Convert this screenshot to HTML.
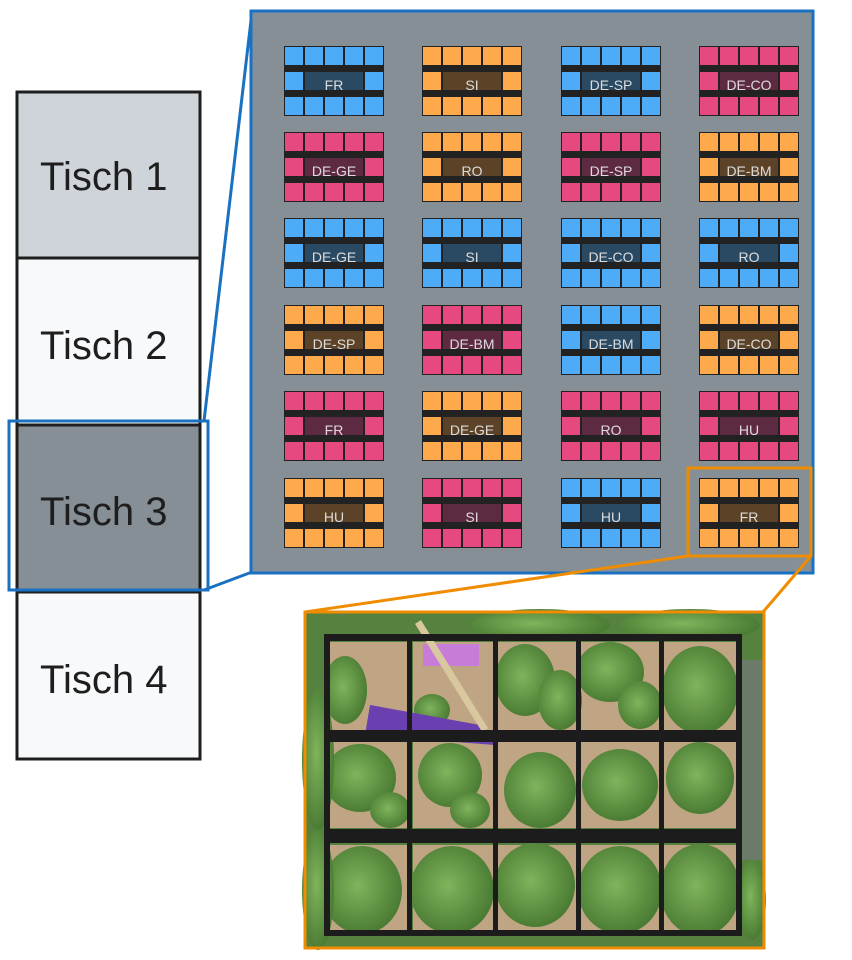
<!DOCTYPE html>
<html><head><meta charset="utf-8"><style>
html,body{margin:0;padding:0;background:#fff;width:852px;height:960px;overflow:hidden}
svg{display:block}
text{font-family:"Liberation Sans",sans-serif}
</style></head><body>
<svg width="852" height="960" viewBox="0 0 852 960" xmlns="http://www.w3.org/2000/svg">
<defs>
<g id="tB"><rect width="100" height="70" fill="#222"/>
<g fill="#4dabf7"><rect x="1" y="1" width="18" height="18"/><rect x="21" y="1" width="18" height="18"/><rect x="41" y="1" width="18" height="18"/><rect x="61" y="1" width="18" height="18"/><rect x="81" y="1" width="18" height="18"/>
<rect x="1" y="26" width="18" height="18"/><rect x="81" y="26" width="18" height="18"/>
<rect x="1" y="51" width="18" height="18"/><rect x="21" y="51" width="18" height="18"/><rect x="41" y="51" width="18" height="18"/><rect x="61" y="51" width="18" height="18"/><rect x="81" y="51" width="18" height="18"/></g>
<rect x="21" y="26" width="58" height="18" fill="#2a4962"/></g>
<g id="tO"><rect width="100" height="70" fill="#222"/>
<g fill="#ffa94d"><rect x="1" y="1" width="18" height="18"/><rect x="21" y="1" width="18" height="18"/><rect x="41" y="1" width="18" height="18"/><rect x="61" y="1" width="18" height="18"/><rect x="81" y="1" width="18" height="18"/>
<rect x="1" y="26" width="18" height="18"/><rect x="81" y="26" width="18" height="18"/>
<rect x="1" y="51" width="18" height="18"/><rect x="21" y="51" width="18" height="18"/><rect x="41" y="51" width="18" height="18"/><rect x="61" y="51" width="18" height="18"/><rect x="81" y="51" width="18" height="18"/></g>
<rect x="21" y="26" width="58" height="18" fill="#5c4328"/></g>
<g id="tP"><rect width="100" height="70" fill="#222"/>
<g fill="#e64980"><rect x="1" y="1" width="18" height="18"/><rect x="21" y="1" width="18" height="18"/><rect x="41" y="1" width="18" height="18"/><rect x="61" y="1" width="18" height="18"/><rect x="81" y="1" width="18" height="18"/>
<rect x="1" y="26" width="18" height="18"/><rect x="81" y="26" width="18" height="18"/>
<rect x="1" y="51" width="18" height="18"/><rect x="21" y="51" width="18" height="18"/><rect x="41" y="51" width="18" height="18"/><rect x="61" y="51" width="18" height="18"/><rect x="81" y="51" width="18" height="18"/></g>
<rect x="21" y="26" width="58" height="18" fill="#5e2a42"/></g>
<radialGradient id="leaf" cx="45%" cy="45%" r="55%"><stop offset="0" stop-color="#80b45c"/><stop offset="1" stop-color="#4b7c34"/></radialGradient>
</defs>

<rect x="17" y="92" width="183" height="166" fill="#ced4da" stroke="#1e1e1e" stroke-width="3"/>
<rect x="17" y="258" width="183" height="167" fill="#f8f9fa" stroke="#1e1e1e" stroke-width="3"/>
<rect x="17" y="425" width="183" height="167" fill="#868e96" stroke="#1e1e1e" stroke-width="3"/>
<rect x="17" y="592" width="183" height="167" fill="#f8f9fa" stroke="#1e1e1e" stroke-width="3"/>
<g font-size="40" fill="#1e1e1e">
<text x="40" y="190">Tisch 1</text><text x="40" y="359">Tisch 2</text>
<text x="40" y="525">Tisch 3</text><text x="40" y="693">Tisch 4</text></g>
<rect x="9" y="421" width="199" height="169" fill="none" stroke="#1971c2" stroke-width="3"/>
<line x1="204" y1="421" x2="252" y2="12" stroke="#1971c2" stroke-width="3"/>
<line x1="204" y1="590" x2="252" y2="572" stroke="#1971c2" stroke-width="3"/>

<rect x="251" y="11" width="562" height="562" fill="#868e96" stroke="#1971c2" stroke-width="3"/>
<use href="#tB" x="284" y="46"/><use href="#tO" x="422" y="46"/><use href="#tB" x="561" y="46"/><use href="#tP" x="699" y="46"/>
<use href="#tP" x="284" y="132"/><use href="#tO" x="422" y="132"/><use href="#tP" x="561" y="132"/><use href="#tO" x="699" y="132"/>
<use href="#tB" x="284" y="218"/><use href="#tB" x="422" y="218"/><use href="#tB" x="561" y="218"/><use href="#tB" x="699" y="218"/>
<use href="#tO" x="284" y="305"/><use href="#tP" x="422" y="305"/><use href="#tB" x="561" y="305"/><use href="#tO" x="699" y="305"/>
<use href="#tP" x="284" y="391"/><use href="#tO" x="422" y="391"/><use href="#tP" x="561" y="391"/><use href="#tP" x="699" y="391"/>
<use href="#tO" x="284" y="478"/><use href="#tP" x="422" y="478"/><use href="#tB" x="561" y="478"/><use href="#tO" x="699" y="478"/>
<g font-size="14" fill="#dcdcdc" text-anchor="middle">
<text x="334" y="90">FR</text><text x="472" y="90">SI</text><text x="611" y="90">DE-SP</text><text x="749" y="90">DE-CO</text>
<text x="334" y="176">DE-GE</text><text x="472" y="176">RO</text><text x="611" y="176">DE-SP</text><text x="749" y="176">DE-BM</text>
<text x="334" y="262">DE-GE</text><text x="472" y="262">SI</text><text x="611" y="262">DE-CO</text><text x="749" y="262">RO</text>
<text x="334" y="349">DE-SP</text><text x="472" y="349">DE-BM</text><text x="611" y="349">DE-BM</text><text x="749" y="349">DE-CO</text>
<text x="334" y="435">FR</text><text x="472" y="435">DE-GE</text><text x="611" y="435">RO</text><text x="749" y="435">HU</text>
<text x="334" y="522">HU</text><text x="472" y="522">SI</text><text x="611" y="522">HU</text><text x="749" y="522">FR</text></g>

<rect x="688" y="468" width="123" height="88" fill="none" stroke="#f08c00" stroke-width="3"/>
<line x1="688" y1="556" x2="305" y2="612" stroke="#f08c00" stroke-width="3"/>
<line x1="811" y1="556" x2="763" y2="612" stroke="#f08c00" stroke-width="3"/>

<rect x="305" y="612" width="459" height="336" fill="#56823f"/>
<rect x="740" y="660" width="24" height="200" fill="#6c7a6a"/>
<g fill="#bfa583">
<rect x="330" y="642" width="78" height="88"/><rect x="413" y="642" width="80" height="88"/><rect x="498" y="642" width="78" height="88"/><rect x="581" y="642" width="78" height="88"/><rect x="664" y="642" width="72" height="88"/>
<rect x="330" y="742" width="78" height="86"/><rect x="413" y="742" width="80" height="86"/><rect x="498" y="742" width="78" height="86"/><rect x="581" y="742" width="78" height="86"/><rect x="664" y="742" width="72" height="86"/>
<rect x="330" y="845" width="78" height="88"/><rect x="413" y="845" width="80" height="88"/><rect x="498" y="845" width="78" height="88"/><rect x="581" y="845" width="78" height="88"/><rect x="664" y="845" width="72" height="88"/></g>
<g fill="url(#leaf)">
<ellipse cx="345" cy="690" rx="22" ry="34"/><ellipse cx="432" cy="710" rx="18" ry="16"/><ellipse cx="525" cy="680" rx="30" ry="36"/><ellipse cx="560" cy="700" rx="22" ry="30"/><ellipse cx="610" cy="672" rx="34" ry="30"/><ellipse cx="640" cy="705" rx="22" ry="24"/><ellipse cx="700" cy="690" rx="38" ry="44"/>
<ellipse cx="360" cy="778" rx="36" ry="34"/><ellipse cx="390" cy="810" rx="20" ry="18"/><ellipse cx="450" cy="775" rx="32" ry="32"/><ellipse cx="470" cy="810" rx="20" ry="18"/><ellipse cx="540" cy="790" rx="36" ry="38"/><ellipse cx="620" cy="785" rx="38" ry="36"/><ellipse cx="700" cy="778" rx="34" ry="36"/>
<ellipse cx="362" cy="890" rx="40" ry="44"/><ellipse cx="452" cy="890" rx="42" ry="44"/><ellipse cx="535" cy="885" rx="40" ry="42"/><ellipse cx="620" cy="890" rx="42" ry="44"/><ellipse cx="700" cy="890" rx="40" ry="46"/>
<ellipse cx="540" cy="625" rx="70" ry="16"/><ellipse cx="690" cy="625" rx="70" ry="16"/><ellipse cx="318" cy="760" rx="16" ry="70"/><ellipse cx="318" cy="890" rx="16" ry="60"/><ellipse cx="752" cy="900" rx="14" ry="40"/></g>
<rect x="423" y="644" width="56" height="22" fill="#c77dd8"/>
<polygon points="370,705 480,725 495,745 365,735" fill="#6a3fb0"/>
<line x1="418" y1="622" x2="485" y2="730" stroke="#d9c7a0" stroke-width="7"/>
<g fill="#1c1c1c">
<rect x="324" y="634" width="418" height="7"/><rect x="324" y="930" width="418" height="6"/>
<rect x="324" y="730" width="418" height="12"/><rect x="324" y="829" width="418" height="14"/>
<rect x="324" y="634" width="6" height="302"/><rect x="736" y="634" width="6" height="302"/>
<rect x="407" y="634" width="5" height="302"/><rect x="493" y="634" width="5" height="302"/><rect x="576" y="634" width="5" height="302"/><rect x="659" y="634" width="5" height="302"/></g>
<rect x="305" y="612" width="459" height="336" fill="none" stroke="#f08c00" stroke-width="3"/>
</svg>
</body></html>
